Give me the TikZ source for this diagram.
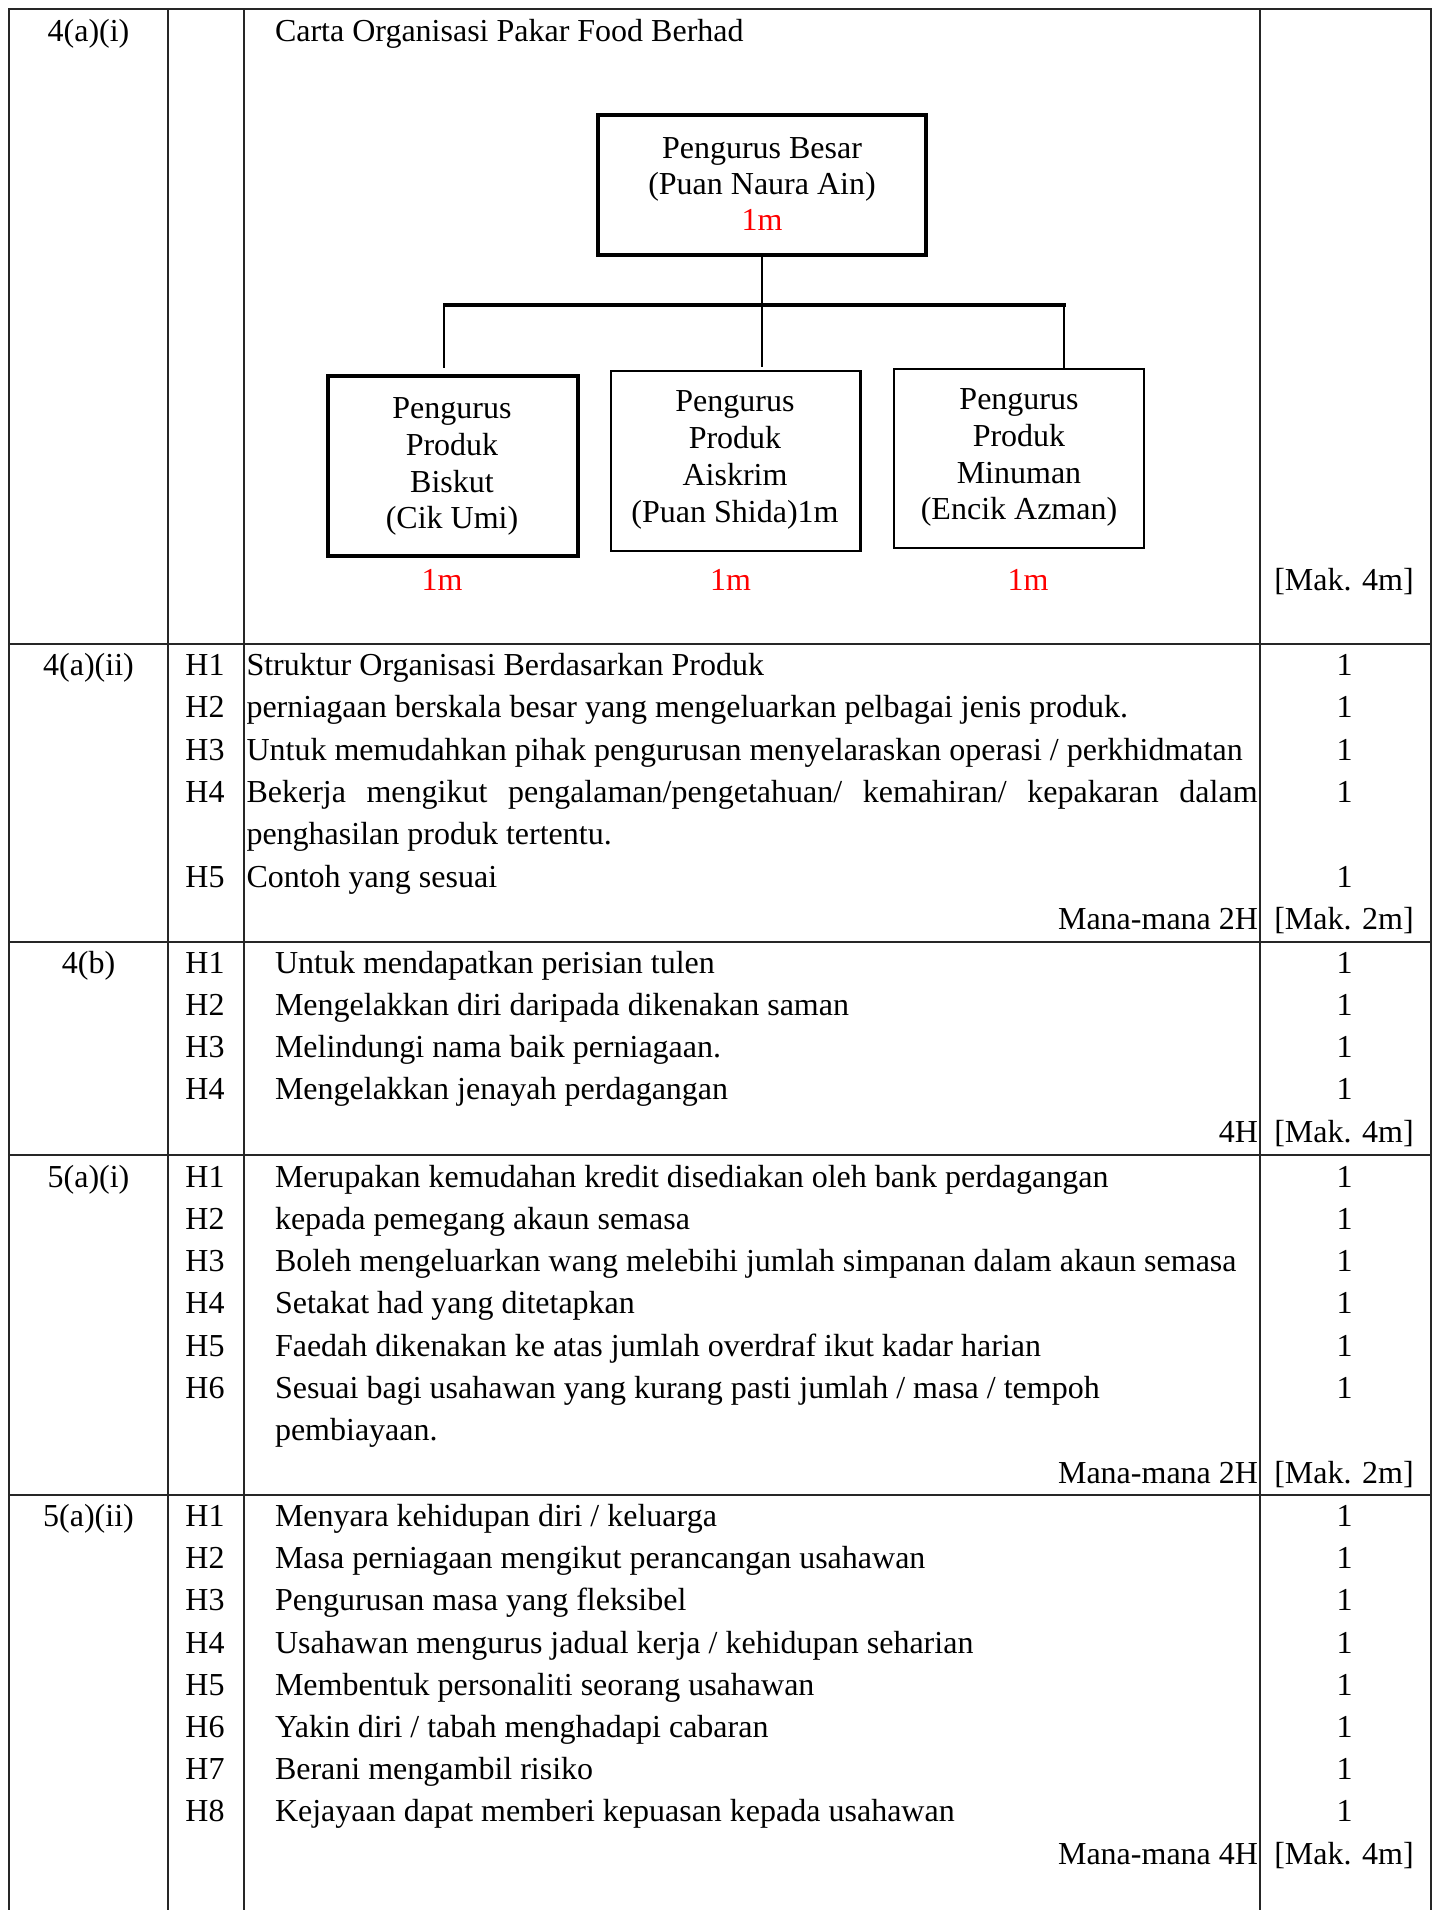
\documentclass[tikz,border=0pt]{standalone}
\usepackage{fontspec}
\setmainfont{Liberation Serif}
\begin{document}
\begin{tikzpicture}[x=0.5pt,y=-0.5pt,
  tx/.style={inner sep=0pt,outer sep=0pt,font=\fontsize{16}{19}\selectfont},
  redtx/.style={tx,text=red},
  grid/.style={line width=1pt,draw=black!85},
  thickbox/.style={draw,line width=2.1pt,inner sep=0pt},
  thinbox/.style={draw,line width=1.1pt,inner sep=0pt},
  conn/.style={line width=1.05pt},
  bar/.style={line width=1.6pt}]
\useasboundingbox (0,0) rectangle (1437,1910);
\newcommand\qrow[5]{%
  \node[tx,anchor=base] (#1h) at (205,#2) {#3};
  \node[tx,anchor=base west] (#1t) at (#4,#2) {#5};
  \node[tx,anchor=base] (#1m) at (1344.5,#2) {1};}
% ---------- table grid
\draw[grid] (9,1910) -- (9,9) -- (1430.5,9) -- (1430.5,1910);
\foreach \x in {168,244,1260} \draw[grid] (\x,9) -- (\x,1910);
\foreach \y in {644,942,1155,1495} \draw[grid] (9,\y) -- (1430.5,\y);
% ---------- row 4(a)(i)
\node[tx,anchor=base] (qA) at (88.5,41.5) {4(a)(i)};
\node[tx,anchor=base west] (title) at (275,41.5) {Carta Organisasi Pakar Food Berhad};
\node[tx,anchor=base] (makA) at (1344,590.5) {[Mak. 4m]};
% org chart boxes
\node[thickbox,minimum width=164.15pt,minimum height=70pt] (top) at (762.2,184.7) {};
\node[thickbox,minimum width=124.9pt,minimum height=89.7pt] (b1) at (452.7,466) {};
\node[thinbox,minimum width=124.7pt,minimum height=89.85pt] (b2) at (735.7,460.85) {};
\node[thinbox,minimum width=125pt,minimum height=89.8pt] (b3) at (1019,458.5) {};
% org chart texts
\node[tx,anchor=base] (top1) at (762,158.2) {Pengurus Besar};
\node[tx,anchor=base] (top2) at (762,194.8) {(Puan Naura Ain)};
\node[redtx,anchor=base] (top3) at (762,230.8) {1m};
\node[tx,anchor=base] (b1a) at (452,418.5) {Pengurus};
\node[tx,anchor=base] (b1b) at (452,455.5) {Produk};
\node[tx,anchor=base] (b1c) at (452,492.2) {Biskut};
\node[tx,anchor=base] (b1d) at (452,528.8) {(Cik Umi)};
\node[tx,anchor=base] (b2a) at (735,411.5) {Pengurus};
\node[tx,anchor=base] (b2b) at (735,448.2) {Produk};
\node[tx,anchor=base] (b2c) at (735,485.5) {Aiskrim};
\node[tx,anchor=base] (b2d) at (735,522.2) {(Puan Shida)1m};
\node[tx,anchor=base] (b3a) at (1019,409.8) {Pengurus};
\node[tx,anchor=base] (b3b) at (1019,446.5) {Produk};
\node[tx,anchor=base] (b3c) at (1019,483.2) {Minuman};
\node[tx,anchor=base] (b3d) at (1019,519.8) {(Encik Azman)};
\node[redtx,anchor=base] (m1) at (442,590.5) {1m};
\node[redtx,anchor=base] (m2) at (730.5,590.5) {1m};
\node[redtx,anchor=base] (m3) at (1028,590.5) {1m};
% connectors
\coordinate (barL) at (443,305);
\coordinate (barR) at (1066,305);
\coordinate (dropL) at (444,368);
\coordinate (dropR) at (1064,367.5);
\coordinate (dropC) at (762.2,367.3);
\draw[conn] (top.south) -- (dropC);
\draw[bar] (barL) -- (barR);
\draw[conn] (dropL |- barL) -- (dropL);
\draw[conn] (dropR |- barR) -- (dropR);
% ---------- row 4(a)(ii)
\node[tx,anchor=base] (qB) at (88.5,675.5) {4(a)(ii)};
\qrow{rb1}{675.5}{H1}{246.5}{Struktur Organisasi Berdasarkan Produk}
\qrow{rb2}{717.8}{H2}{246.5}{perniagaan berskala besar yang mengeluarkan pelbagai jenis produk.}
\qrow{rb3}{760.1}{H3}{246.5}{Untuk memudahkan pihak pengurusan menyelaraskan operasi / perkhidmatan}
\qrow{rb4}{802.4}{H4}{246.5}{\makebox[505.5pt][s]{Bekerja mengikut pengalaman/pengetahuan/ kemahiran/ kepakaran dalam}}
\node[tx,anchor=base west] (rb4x) at (246.5,844.7) {penghasilan produk tertentu.};
\qrow{rb5}{887}{H5}{246.5}{Contoh yang sesuai}
\node[tx,anchor=base east] (rbany) at (1258,929.3) {Mana-mana 2H};
\node[tx,anchor=base] (rbmak) at (1344,929.3) {[Mak. 2m]};
% ---------- row 4(b)
\node[tx,anchor=base] (qC) at (88.5,973) {4(b)};
\qrow{rc1}{973}{H1}{275}{Untuk mendapatkan perisian tulen}
\qrow{rc2}{1015.3}{H2}{275}{Mengelakkan diri daripada dikenakan saman}
\qrow{rc3}{1057.6}{H3}{275}{Melindungi nama baik perniagaan.}
\qrow{rc4}{1099.9}{H4}{275}{Mengelakkan jenayah perdagangan}
\node[tx,anchor=base east] (rcany) at (1258,1142.2) {4H};
\node[tx,anchor=base] (rcmak) at (1344,1142.2) {[Mak. 4m]};
% ---------- row 5(a)(i)
\node[tx,anchor=base] (qD) at (88.5,1187) {5(a)(i)};
\qrow{rd1}{1187}{H1}{275}{Merupakan kemudahan kredit disediakan oleh bank perdagangan}
\qrow{rd2}{1229.3}{H2}{275}{kepada pemegang akaun semasa}
\qrow{rd3}{1271.6}{H3}{275}{Boleh mengeluarkan wang melebihi jumlah simpanan dalam akaun semasa}
\qrow{rd4}{1313.9}{H4}{275}{Setakat had yang ditetapkan}
\qrow{rd5}{1356.2}{H5}{275}{Faedah dikenakan ke atas jumlah overdraf ikut kadar harian}
\qrow{rd6}{1398.5}{H6}{275}{Sesuai bagi usahawan yang kurang pasti jumlah / masa / tempoh}
\node[tx,anchor=base west] (rd6x) at (275,1440.8) {pembiayaan.};
\node[tx,anchor=base east] (rdany) at (1258,1483.1) {Mana-mana 2H};
\node[tx,anchor=base] (rdmak) at (1344,1483.1) {[Mak. 2m]};
% ---------- row 5(a)(ii)
\node[tx,anchor=base] (qE) at (88.5,1526.5) {5(a)(ii)};
\qrow{re1}{1526.5}{H1}{275}{Menyara kehidupan diri / keluarga}
\qrow{re2}{1568.7}{H2}{275}{Masa perniagaan mengikut perancangan usahawan}
\qrow{re3}{1610.9}{H3}{275}{Pengurusan masa yang fleksibel}
\qrow{re4}{1653.1}{H4}{275}{Usahawan mengurus jadual kerja / kehidupan seharian}
\qrow{re5}{1695.3}{H5}{275}{Membentuk personaliti seorang usahawan}
\qrow{re6}{1737.5}{H6}{275}{Yakin diri / tabah menghadapi cabaran}
\qrow{re7}{1779.7}{H7}{275}{Berani mengambil risiko}
\qrow{re8}{1821.9}{H8}{275}{Kejayaan dapat memberi kepuasan kepada usahawan}
\node[tx,anchor=base east] (reany) at (1258,1864.1) {Mana-mana 4H};
\node[tx,anchor=base] (remak) at (1344,1864.1) {[Mak. 4m]};
\end{tikzpicture}
\end{document}
